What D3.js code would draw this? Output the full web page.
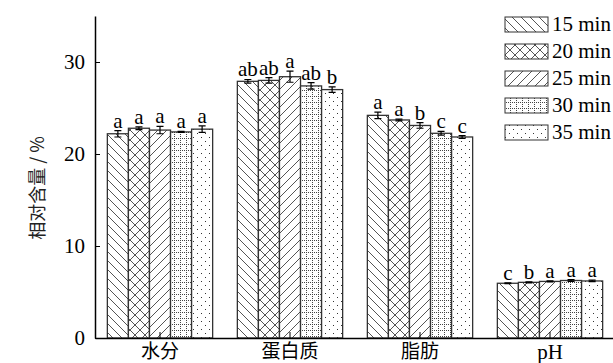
<!DOCTYPE html>
<html>
<head>
<meta charset="utf-8">
<script src="https://cdn.jsdelivr.net/npm/d3@7"></script>
<style>
  body { margin: 0; background: #fff; }
  svg { display: block; }
  .serif { font-family: "Liberation Serif", "DejaVu Serif", serif; }
  .cjk { font-family: "Noto Sans CJK SC", sans-serif; }
</style>
</head>
<body>
<svg id="main_chart" width="613" height="363"></svg>
<script>
(function() {
  // DATA
  const categories = ['水分', '蛋白质', '脂肪', 'pH'];
  const series = ['15 min', '20 min', '25 min', '30 min', '35 min'];
  const values = [
    [22.2, 27.9, 24.2, 5.95],
    [22.8, 28.0, 23.7, 6.05],
    [22.6, 28.4, 23.1, 6.15],
    [22.4, 27.4, 22.25, 6.25],
    [22.7, 27.0, 21.85, 6.2]
  ];
  const errors = [
    [0.35, 0.2, 0.35, 0.05],
    [0.15, 0.3, 0.1, 0.05],
    [0.4, 0.6, 0.3, 0.05],
    [0.05, 0.35, 0.2, 0.1],
    [0.35, 0.3, 0.15, 0.08]
  ];
  const letters = [
    ['a', 'ab', 'a', 'c'],
    ['a', 'ab', 'a', 'b'],
    ['a', 'a', 'b', 'a'],
    ['a', 'ab', 'c', 'a'],
    ['a', 'b', 'c', 'a']
  ];
  const yTicks = [0, 10, 20, 30];

  const svg = d3.select('#main_chart');

  // PATTERNS
  const defs = svg.append('defs');
  const lineCol = '#555';
  function pat(id, w, h) {
    const p = defs.append('pattern').attr('id', id).attr('patternUnits', 'userSpaceOnUse')
      .attr('width', w).attr('height', h);
    p.append('rect').attr('width', w).attr('height', h).attr('fill', '#fff');
    return p;
  }
  // 15 min: back slash lines
  pat('p0', 9, 9).append('path').attr('d', 'M0,0 L9,9 M-9,0 L9,18 M0,-9 L18,9')
    .attr('stroke', lineCol).attr('stroke-width', 1);
  // 20 min: crosshatch
  pat('p1', 10, 10).append('path').attr('d', 'M0,0 L10,10 M0,10 L10,0 M-5,5 L5,15 M5,-5 L15,5 M-5,5 L5,-5 M5,15 L15,5')
    .attr('stroke', lineCol).attr('stroke-width', 1);
  // 25 min: forward slash lines
  pat('p2', 9, 9).append('path').attr('d', 'M0,9 L9,0 M-9,9 L9,-9 M0,18 L18,0')
    .attr('stroke', lineCol).attr('stroke-width', 1);
  // 30 min: dotted grid
  const p3 = pat('p3', 6, 6);
  p3.append('path').attr('d', 'M0.5,0 L0.5,6 M0,0.5 L6,0.5')
    .attr('stroke', '#444').attr('stroke-width', 1).attr('stroke-dasharray', '1,1');
  // 35 min: sparse dots
  const p4 = pat('p4', 8, 8);
  p4.append('rect').attr('x', 1).attr('y', 1).attr('width', 1).attr('height', 1).attr('fill', '#333');
  p4.append('rect').attr('x', 5).attr('y', 5).attr('width', 1).attr('height', 1).attr('fill', '#333');

  // SCALES
  const x0 = d3.scaleBand().domain(categories).range([95, 615])
    .paddingInner(0.19).paddingOuter(0.095);
  const x1 = d3.scaleBand().domain(series).range([0, x0.bandwidth()]);
  const y = d3.scaleLinear().domain([0, 35]).range([338, 16]);

  // BARS
  const g = svg.append('g');
  series.forEach((s, si) => {
    categories.forEach((c, ci) => {
      const v = values[si][ci];
      const e = errors[si][ci];
      const bx = x0(c) + x1(s);
      const w = x1.bandwidth();
      g.append('rect')
        .attr('x', bx).attr('y', y(v))
        .attr('width', w).attr('height', y(0) - y(v))
        .attr('fill', `url(#p${si})`)
        .attr('stroke', '#333').attr('stroke-width', 1.3);
      const cx = bx + w / 2;
      g.append('path')
        .attr('d', `M${cx},${y(v + e)} L${cx},${y(v - e)} M${cx - 3.5},${y(v + e)} L${cx + 3.5},${y(v + e)} M${cx - 3.5},${y(v - e)} L${cx + 3.5},${y(v - e)}`)
        .attr('stroke', '#000').attr('stroke-width', 1.2).attr('fill', 'none');
      g.append('text').attr('class', 'serif')
        .attr('x', cx).attr('y', y(v + e) - 3)
        .attr('text-anchor', 'middle').attr('font-size', 21)
        .text(letters[si][ci]);
    });
  });

  // AXES
  const yAxis = d3.axisLeft(y).tickValues(yTicks).tickSizeInner(-5).tickSizeOuter(0).tickPadding(10);
  const ya = svg.append('g').attr('transform', 'translate(95,0)').call(yAxis);
  ya.select('.domain').attr('stroke-width', 1.5);
  ya.selectAll('text').attr('class', 'serif').attr('font-size', 21).attr('fill', '#000');

  const xAxis = d3.axisBottom(x0).tickSizeInner(-6).tickSizeOuter(0).tickPadding(10);
  const xa = svg.append('g').attr('transform', 'translate(0,338)').call(xAxis);
  xa.select('.domain').attr('stroke-width', 1.5);
  xa.selectAll('text')
    .attr('class', d => d === 'pH' ? 'serif' : 'cjk')
    .attr('font-size', d => d === 'pH' ? 21 : 19)
    .attr('fill', '#000')
    .attr('dy', '0.5em');

  // Y LABEL
  svg.append('text').attr('class', 'cjk')
    .attr('transform', 'translate(44,188) rotate(-90)')
    .attr('text-anchor', 'middle').attr('font-size', 18).attr('fill', '#222')
    .text('相对含量 / %');

  // LEGEND
  const leg = svg.append('g');
  series.forEach((s, si) => {
    const ly = 17 + si * 27;
    leg.append('rect').attr('x', 505).attr('y', ly).attr('width', 43).attr('height', 15)
      .attr('fill', `url(#p${si})`).attr('stroke', '#333').attr('stroke-width', 1);
    leg.append('text').attr('class', 'serif').attr('x', 552).attr('y', ly + 14)
      .attr('font-size', 21).text(s);
  });
})();
</script>
</body>
</html>
